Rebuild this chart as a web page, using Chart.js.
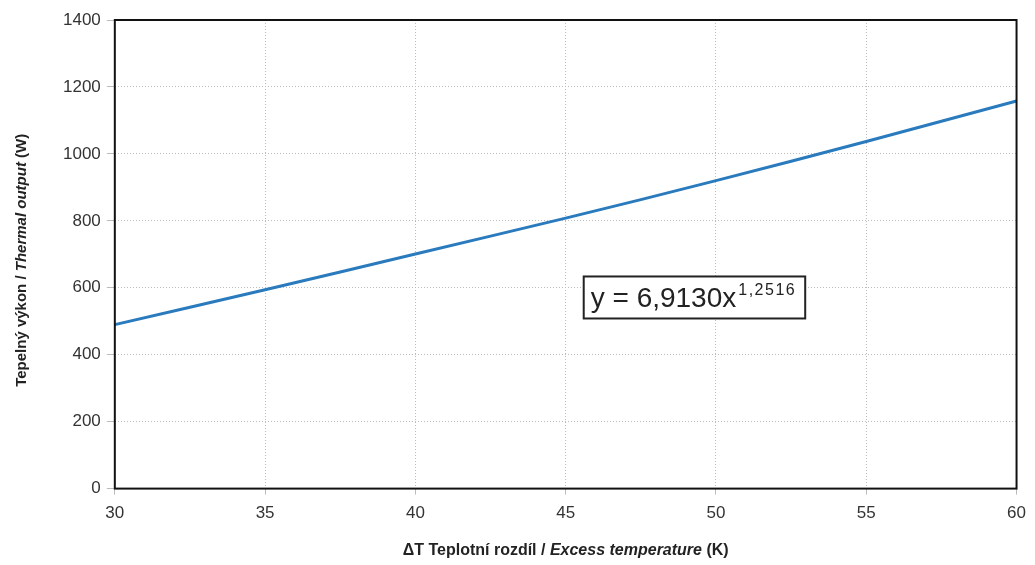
<!DOCTYPE html>
<html>
<head>
<meta charset="utf-8">
<script src="https://cdn.jsdelivr.net/npm/chart.js@4"></script>
<style>
  body { margin: 0; background: #fff; }
  #wrap { width: 1035px; height: 565px; }
</style>
</head>
<body>
<div id="wrap"><canvas id="chart" width="1035" height="565"></canvas></div>
<script>
// data
var deltaT = [30, 35, 40, 45, 50, 55, 60];
var output = [490, 594, 701, 808, 920, 1037, 1158];
var xTicks = [30, 35, 40, 45, 50, 55, 60];
var yTicks = [0, 200, 400, 600, 800, 1000, 1200, 1400];

var eqText = 'y = 6,9130x';
var eqExp = '1,2516';
var eqAt = { x: 45.6, y: 571 };

var FONT = 'Liberation Sans, Arial, sans-serif';

// frame, axis titles and equation box
var extras = {
  id: 'extras',
  afterDraw: function (c) {
    var ctx = c.ctx, a = c.chartArea;
    var sx = c.scales.x, sy = c.scales.y;
    ctx.save();
    ctx.strokeStyle = '#111';
    ctx.lineWidth = 2;
    ctx.strokeRect(a.left, a.top, a.right - a.left, a.bottom - a.top);

    // x title
    ctx.fillStyle = '#222';
    ctx.textBaseline = 'middle';
    var parts = [
      ['bold 16px ' + FONT, '\u0394T Teplotní rozdíl / '],
      ['italic bold 16px ' + FONT, 'Excess temperature'],
      ['bold 16px ' + FONT, ' (K)']
    ];
    var w = 0;
    parts.forEach(function (p) { ctx.font = p[0]; w += ctx.measureText(p[1]).width; });
    var x0 = (a.left + a.right) / 2 - w / 2;
    parts.forEach(function (p) {
      ctx.font = p[0]; ctx.fillText(p[1], x0, 551); x0 += ctx.measureText(p[1]).width;
    });

    // y title
    ctx.save();
    ctx.translate(22, (a.top + a.bottom) / 2 + 6);
    ctx.rotate(-Math.PI / 2);
    var yparts = [
      ['bold 15px ' + FONT, 'Tepelný výkon / '],
      ['italic bold 15px ' + FONT, 'Thermal output'],
      ['bold 15px ' + FONT, ' (W)']
    ];
    w = 0;
    yparts.forEach(function (p) { ctx.font = p[0]; w += ctx.measureText(p[1]).width; });
    x0 = -w / 2;
    yparts.forEach(function (p) {
      ctx.font = p[0]; ctx.fillText(p[1], x0, 0); x0 += ctx.measureText(p[1]).width;
    });
    ctx.restore();

    // equation box
    var bx = sx.getPixelForValue(eqAt.x), by = sy.getPixelForValue(eqAt.y);
    ctx.font = '28px ' + FONT;
    var tw = ctx.measureText(eqText).width;
    ctx.font = '16px ' + FONT;
    ctx.letterSpacing = '1.5px';
    var ew = ctx.measureText(eqExp).width;
    ctx.letterSpacing = '0px';
    var bw = tw + ew + 18, bh = 42;
    ctx.fillStyle = '#fff';
    ctx.fillRect(bx, by - bh / 2, bw, bh);
    ctx.strokeStyle = '#222';
    ctx.lineWidth = 2;
    ctx.strokeRect(bx, by - bh / 2, bw, bh);
    ctx.fillStyle = '#222';
    ctx.font = '28px ' + FONT;
    ctx.fillText(eqText, bx + 7, by + 2);
    ctx.font = '16px ' + FONT;
    ctx.letterSpacing = '1.5px';
    ctx.fillText(eqExp, bx + 9 + tw, by - 7);
    ctx.restore();
  }
};

var chart = new Chart(document.getElementById('chart'), {
  type: 'line',
  data: {
    datasets: [{
      data: deltaT.map(function (t, i) { return { x: t, y: output[i] }; }),
      borderColor: '#2a7bbd',
      borderWidth: 3,
      pointRadius: 0,
      tension: 0.3,
      fill: false
    }]
  },
  options: {
    responsive: false,
    animation: false,
    layout: { padding: { left: 57, right: 4, top: 20, bottom: 32 } },
    plugins: { legend: { display: false }, tooltip: { enabled: false } },
    scales: {
      x: {
        type: 'linear', min: 30, max: 60,
        afterBuildTicks: function (s) { s.ticks = xTicks.map(function (v) { return { value: v }; }); },
        grid: { color: '#bbb', tickLength: 6, tickColor: '#bbb' },
        border: { display: false, dash: [1, 2] },
        ticks: { color: '#333', font: { size: 17, family: FONT }, padding: 9, maxRotation: 0,
                 callback: function (v) { return String(v); } }
      },
      y: {
        min: 0, max: 1400,
        afterBuildTicks: function (s) { s.ticks = yTicks.map(function (v) { return { value: v }; }); },
        grid: { color: '#bbb', tickLength: 8, tickColor: '#bbb' },
        border: { display: false, dash: [1, 2] },
        ticks: { color: '#333', font: { size: 17, family: FONT }, padding: 6,
                 callback: function (v) { return String(v); } }
      }
    }
  },
  plugins: [extras]
});
</script>
</body>
</html>
